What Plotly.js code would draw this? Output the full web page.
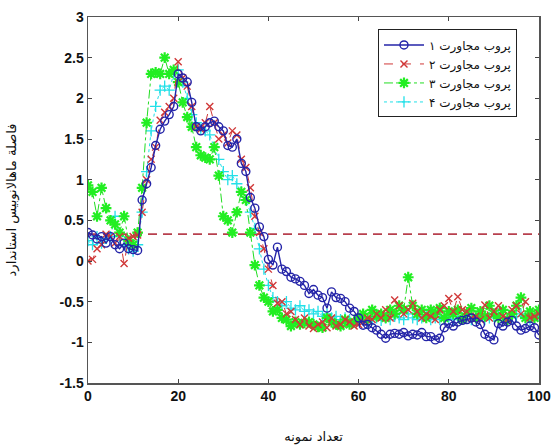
<!DOCTYPE html>
<html>
<head>
<meta charset="utf-8">
<script src="https://cdn.plot.ly/plotly-3.0.1.min.js"></script>
<style>html,body{margin:0;padding:0;background:#fff;}#chart{width:556px;height:445px;}</style>
</head>
<body>
<div id="chart"></div>
<script>
// sample index 0..100
var samples = [];
for (var i = 0; i <= 100; i++) samples.push(i);

var seriesNames = ["پروب مجاورت ۱", "پروب مجاورت ۲", "پروب مجاورت ۳", "پروب مجاورت ۴"];

var probe1 = [0.35,0.32,0.27,0.3,0.22,0.3,0.2,0.15,0.22,0.15,0.14,0.13,0.75,0.95,1.15,1.42,1.62,1.72,1.8,1.9,
  2.3,2.25,2.2,1.95,1.65,1.6,1.65,1.7,1.72,1.65,1.6,1.42,1.4,1.5,1.2,1.1,0.78,0.65,0.42,0.3,
  0.02,-0.05,0.17,-0.1,-0.13,-0.2,-0.22,-0.25,-0.3,-0.4,-0.35,-0.42,-0.45,-0.58,-0.38,-0.45,-0.46,-0.5,-0.58,-0.62,
  -0.7,-0.79,-0.78,-0.82,-0.85,-0.9,-0.95,-0.9,-0.89,-0.9,-0.88,-0.92,-0.9,-0.91,-0.88,-0.93,-0.93,-0.97,-0.95,-0.82,
  -0.77,-0.8,-0.75,-0.73,-0.72,-0.7,-0.75,-0.78,-0.9,-0.93,-0.97,-0.77,-0.8,-0.75,-0.73,-0.8,-0.85,-0.83,-0.8,-0.82,-0.91];

var probe2 = [0.0,0.02,0.15,0.2,0.33,0.3,0.22,0.3,-0.03,0.28,0.3,0.32,0.6,1.0,1.25,1.4,1.73,1.83,1.9,2.0,
  2.45,2.25,2.15,1.9,1.65,1.62,1.7,1.9,1.7,1.5,1.55,1.45,1.6,1.55,1.25,1.15,0.9,0.55,0.35,0.15,
  -0.1,-0.3,-0.52,-0.5,-0.65,-0.62,-0.72,-0.78,-0.7,-0.8,-0.83,-0.78,-0.75,-0.82,-0.7,-0.8,-0.78,-0.72,-0.75,-0.8,
  -0.78,-0.75,-0.7,-0.72,-0.65,-0.7,-0.6,-0.7,-0.48,-0.55,-0.65,-0.6,-0.52,-0.62,-0.7,-0.65,-0.68,-0.72,-0.6,-0.55,
  -0.46,-0.62,-0.44,-0.6,-0.62,-0.7,-0.68,-0.72,-0.54,-0.7,-0.62,-0.55,-0.68,-0.72,-0.6,-0.55,-0.65,-0.5,-0.7,-0.68,-0.65];

var probe3 = [0.93,0.85,0.55,0.9,0.65,0.5,0.45,0.35,0.55,0.25,0.2,0.35,0.9,1.7,2.3,2.32,2.3,2.5,2.3,2.35,
  2.2,1.95,1.77,1.65,1.4,1.3,1.27,1.25,1.4,1.05,0.55,0.5,0.35,0.6,0.85,0.75,0.35,-0.05,-0.3,-0.45,
  -0.5,-0.62,-0.6,-0.7,-0.72,-0.8,-0.75,-0.78,-0.76,-0.75,-0.78,-0.81,-0.82,-0.7,-0.75,-0.78,-0.8,-0.72,-0.78,-0.75,
  -0.7,-0.65,-0.72,-0.6,-0.68,-0.65,-0.7,-0.6,-0.65,-0.55,-0.6,-0.2,-0.55,-0.65,-0.6,-0.7,-0.6,-0.65,-0.58,-0.7,
  -0.62,-0.65,-0.6,-0.72,-0.65,-0.58,-0.7,-0.62,-0.68,-0.55,-0.65,-0.7,-0.6,-0.72,-0.65,-0.55,-0.45,-0.7,-0.62,-0.7,-0.6];

var probe4 = [0.25,0.2,0.3,0.22,0.28,0.3,0.55,0.3,0.2,0.15,0.12,0.2,0.6,1.1,1.6,1.9,2.1,2.15,2.1,2.3,
  2.35,2.2,2.0,1.8,1.7,1.62,1.6,1.55,1.4,1.25,1.1,1.0,1.05,0.95,0.85,0.75,0.6,0.4,0.15,-0.1,
  -0.3,-0.45,-0.5,-0.55,-0.5,-0.58,-0.6,-0.55,-0.62,-0.6,-0.65,-0.62,-0.68,-0.65,-0.7,-0.68,-0.72,-0.7,-0.72,-0.75,
  -0.72,-0.7,-0.75,-0.72,-0.7,-0.73,-0.7,-0.72,-0.68,-0.7,-0.72,-0.65,-0.7,-0.72,-0.7,-0.68,-0.72,-0.7,-0.72,-0.68,
  -0.7,-0.72,-0.68,-0.7,-0.68,-0.72,-0.7,-0.68,-0.72,-0.7,-0.68,-0.65,-0.7,-0.72,-0.7,-0.68,-0.65,-0.7,-0.72,-0.7,-0.68];

var threshold = 0.33;

var xTicks = [0, 20, 40, 60, 80, 100];
var yTicks = [-1.5, -1, -0.5, 0, 0.5, 1, 1.5, 2, 2.5, 3];
var yTickText = ["-1.5", "-1", "-0.5", "0", "0.5", "1", "1.5", "2", "2.5", "3"];
var xTitle = "تعداد نمونه";
var yTitle = "فاصلة ماهالانوبیس استاندارد";

var fontFam = "Liberation Sans, Arial, DejaVu Sans, sans-serif";

var traces = [
  {x: [samples[0], samples[samples.length-1]], y: [threshold, threshold], mode: 'lines',
   line: {color: '#b8404e', width: 1.6, dash: '9px,6px'}, showlegend: false, hoverinfo: 'skip'},
  {x: samples, y: probe4, name: seriesNames[3], mode: 'lines+markers',
   line: {color: '#22e0e8', width: 1, dash: 'dot'},
   marker: {symbol: 'cross-thin-open', size: 8, color: '#22e0e8', line: {color: '#22e0e8', width: 1.3}}},
  {x: samples, y: probe3, name: seriesNames[2], mode: 'lines+markers',
   line: {color: '#22dd22', width: 1, dash: 'dashdot'},
   marker: {symbol: 'asterisk-open', size: 9, color: '#22ee22', line: {color: '#22ee22', width: 2.2}}},
  {x: samples, y: probe2, name: seriesNames[1], mode: 'lines+markers',
   line: {color: '#d03838', width: 1, dash: 'dash'},
   marker: {symbol: 'x-thin-open', size: 7, color: '#d03838', line: {color: '#d03838', width: 1.4}}},
  {x: samples, y: probe1, name: seriesNames[0], mode: 'lines+markers',
   line: {color: '#2424a8', width: 1.4},
   marker: {symbol: 'circle-open', size: 8, color: '#2424a8', line: {color: '#2424a8', width: 1.4}}}
];

var layout = {
  width: 556, height: 445,
  margin: {l: 88, r: 17, t: 17, b: 62},
  paper_bgcolor: '#fff', plot_bgcolor: '#fff',
  font: {family: fontFam, color: '#111'},
  showlegend: true,
  legend: {
    x: 0.643, y: 0.966, xanchor: 'left', yanchor: 'top',
    bgcolor: '#fff', bordercolor: '#222', borderwidth: 1,
    font: {family: "DejaVu Sans, sans-serif", size: 12, color: '#111'},
    traceorder: 'reversed', itemwidth: 40, tracegroupgap: 0
  },
  xaxis: {
    range: [0, 100], tickvals: xTicks, ticktext: xTicks.map(String),
    ticks: 'inside', ticklen: 4, tickcolor: '#444', showgrid: false, zeroline: false,
    showline: true, linecolor: '#555', linewidth: 1.5, mirror: 'ticks',
    tickfont: {family: fontFam, size: 14, weight: 'bold', color: '#111'},
    title: {text: xTitle, font: {family: "DejaVu Sans, sans-serif", size: 13, color: '#111'}, standoff: 30}
  },
  yaxis: {
    range: [-1.5, 3], tickvals: yTicks, ticktext: yTickText,
    ticks: 'inside', ticklen: 4, tickcolor: '#444', showgrid: false, zeroline: false,
    showline: true, linecolor: '#555', linewidth: 1.5, mirror: 'ticks',
    tickfont: {family: fontFam, size: 14, weight: 'bold', color: '#111'},
    title: {text: yTitle, font: {family: "DejaVu Sans, sans-serif", size: 13, color: '#111'}, standoff: 40}
  }
};

Plotly.newPlot('chart', traces, layout, {displayModeBar: false, staticPlot: true});
</script>
</body>
</html>
